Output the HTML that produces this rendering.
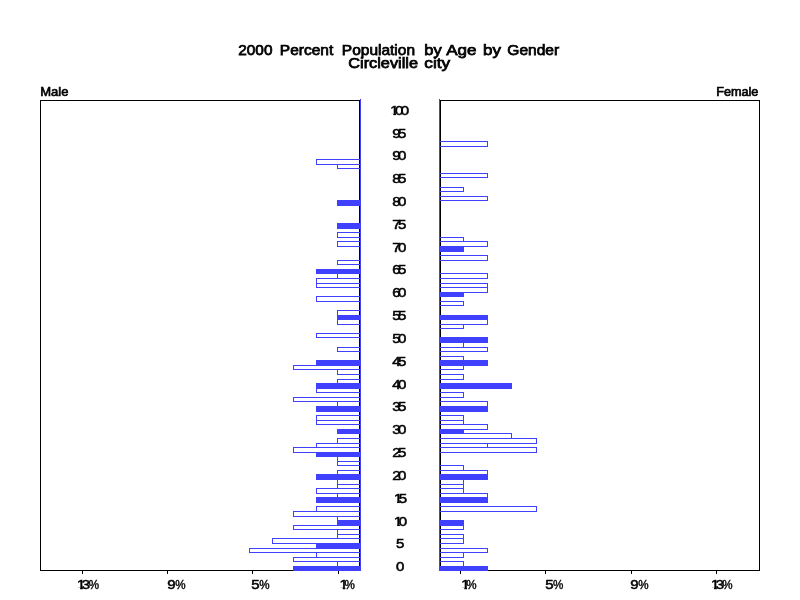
<!DOCTYPE html>
<html lang="en"><head><meta charset="utf-8"><title>2000 Percent Population by Age by Gender - Circleville city</title>
<style>html,body{margin:0;padding:0;background:#fff;}body{width:800px;height:600px;overflow:hidden;}svg{display:block;}text{font-family:"Liberation Sans",Arial,Helvetica,sans-serif;fill:#000;}.t{font-size:14.4px;stroke:#000;stroke-width:0.75px;}.g{font-size:12px;stroke:#000;stroke-width:0.65px;}.a{font-size:12px;letter-spacing:-2.1px;stroke:#000;stroke-width:0.5px;}.p{font-size:12px;stroke:#000;stroke-width:0.4px;}</style></head><body>
<svg width="800" height="600" viewBox="0 0 800 600">
<rect width="800" height="600" fill="#fff"/>
<g shape-rendering="crispEdges">
<rect x="40.5" y="100.5" width="319" height="470" fill="none" stroke="#000" stroke-width="1"/>
<rect x="440.5" y="100.5" width="319" height="470" fill="none" stroke="#000" stroke-width="1"/>
<rect x="82" y="571" width="1" height="3" fill="#000"/>
<rect x="167" y="571" width="1" height="3" fill="#000"/>
<rect x="252" y="571" width="1" height="3" fill="#000"/>
<rect x="338" y="571" width="1" height="3" fill="#000"/>
<rect x="460" y="571" width="1" height="3" fill="#000"/>
<rect x="545" y="571" width="1" height="3" fill="#000"/>
<rect x="631" y="571" width="1" height="3" fill="#000"/>
<rect x="716" y="571" width="1" height="3" fill="#000"/>
<rect x="293" y="566" width="68" height="5" fill="#4040ff"/>
<rect x="337.5" y="561.5" width="23" height="5" fill="none" stroke="#4040ff" stroke-width="1"/>
<rect x="293.5" y="557.5" width="67" height="4" fill="none" stroke="#4040ff" stroke-width="1"/>
<rect x="316.5" y="552.5" width="44" height="5" fill="none" stroke="#4040ff" stroke-width="1"/>
<rect x="249.5" y="548.5" width="111" height="4" fill="none" stroke="#4040ff" stroke-width="1"/>
<rect x="316" y="543" width="45" height="6" fill="#4040ff"/>
<rect x="272.5" y="538.5" width="88" height="5" fill="none" stroke="#4040ff" stroke-width="1"/>
<rect x="337.5" y="534.5" width="23" height="4" fill="none" stroke="#4040ff" stroke-width="1"/>
<rect x="337.5" y="529.5" width="23" height="5" fill="none" stroke="#4040ff" stroke-width="1"/>
<rect x="293.5" y="525.5" width="67" height="4" fill="none" stroke="#4040ff" stroke-width="1"/>
<rect x="337" y="520" width="24" height="6" fill="#4040ff"/>
<rect x="337.5" y="516.5" width="23" height="4" fill="none" stroke="#4040ff" stroke-width="1"/>
<rect x="293.5" y="511.5" width="67" height="5" fill="none" stroke="#4040ff" stroke-width="1"/>
<rect x="316.5" y="506.5" width="44" height="5" fill="none" stroke="#4040ff" stroke-width="1"/>
<rect x="316" y="497" width="45" height="6" fill="#4040ff"/>
<rect x="337.5" y="493.5" width="23" height="4" fill="none" stroke="#4040ff" stroke-width="1"/>
<rect x="316.5" y="488.5" width="44" height="5" fill="none" stroke="#4040ff" stroke-width="1"/>
<rect x="337.5" y="484.5" width="23" height="4" fill="none" stroke="#4040ff" stroke-width="1"/>
<rect x="337.5" y="479.5" width="23" height="5" fill="none" stroke="#4040ff" stroke-width="1"/>
<rect x="316" y="474" width="45" height="6" fill="#4040ff"/>
<rect x="337.5" y="470.5" width="23" height="4" fill="none" stroke="#4040ff" stroke-width="1"/>
<rect x="337.5" y="461.5" width="23" height="4" fill="none" stroke="#4040ff" stroke-width="1"/>
<rect x="337.5" y="456.5" width="23" height="5" fill="none" stroke="#4040ff" stroke-width="1"/>
<rect x="316" y="452" width="45" height="5" fill="#4040ff"/>
<rect x="293.5" y="447.5" width="67" height="5" fill="none" stroke="#4040ff" stroke-width="1"/>
<rect x="316.5" y="443.5" width="44" height="4" fill="none" stroke="#4040ff" stroke-width="1"/>
<rect x="337.5" y="438.5" width="23" height="5" fill="none" stroke="#4040ff" stroke-width="1"/>
<rect x="337" y="429" width="24" height="5" fill="#4040ff"/>
<rect x="316.5" y="420.5" width="44" height="4" fill="none" stroke="#4040ff" stroke-width="1"/>
<rect x="316.5" y="415.5" width="44" height="5" fill="none" stroke="#4040ff" stroke-width="1"/>
<rect x="316" y="406" width="45" height="6" fill="#4040ff"/>
<rect x="337.5" y="401.5" width="23" height="5" fill="none" stroke="#4040ff" stroke-width="1"/>
<rect x="293.5" y="397.5" width="67" height="4" fill="none" stroke="#4040ff" stroke-width="1"/>
<rect x="316.5" y="388.5" width="44" height="4" fill="none" stroke="#4040ff" stroke-width="1"/>
<rect x="316" y="383" width="45" height="6" fill="#4040ff"/>
<rect x="337.5" y="379.5" width="23" height="4" fill="none" stroke="#4040ff" stroke-width="1"/>
<rect x="337.5" y="369.5" width="23" height="5" fill="none" stroke="#4040ff" stroke-width="1"/>
<rect x="293.5" y="365.5" width="67" height="4" fill="none" stroke="#4040ff" stroke-width="1"/>
<rect x="316" y="360" width="45" height="6" fill="#4040ff"/>
<rect x="337.5" y="347.5" width="23" height="4" fill="none" stroke="#4040ff" stroke-width="1"/>
<rect x="316.5" y="333.5" width="44" height="4" fill="none" stroke="#4040ff" stroke-width="1"/>
<rect x="337.5" y="319.5" width="23" height="5" fill="none" stroke="#4040ff" stroke-width="1"/>
<rect x="337" y="315" width="24" height="5" fill="#4040ff"/>
<rect x="337.5" y="310.5" width="23" height="5" fill="none" stroke="#4040ff" stroke-width="1"/>
<rect x="316.5" y="296.5" width="44" height="5" fill="none" stroke="#4040ff" stroke-width="1"/>
<rect x="316.5" y="283.5" width="44" height="4" fill="none" stroke="#4040ff" stroke-width="1"/>
<rect x="316.5" y="278.5" width="44" height="5" fill="none" stroke="#4040ff" stroke-width="1"/>
<rect x="337.5" y="273.5" width="23" height="5" fill="none" stroke="#4040ff" stroke-width="1"/>
<rect x="316" y="269" width="45" height="5" fill="#4040ff"/>
<rect x="337.5" y="260.5" width="23" height="4" fill="none" stroke="#4040ff" stroke-width="1"/>
<rect x="337.5" y="241.5" width="23" height="5" fill="none" stroke="#4040ff" stroke-width="1"/>
<rect x="337.5" y="232.5" width="23" height="5" fill="none" stroke="#4040ff" stroke-width="1"/>
<rect x="337" y="223" width="24" height="6" fill="#4040ff"/>
<rect x="337" y="200" width="24" height="6" fill="#4040ff"/>
<rect x="337.5" y="164.5" width="23" height="4" fill="none" stroke="#4040ff" stroke-width="1"/>
<rect x="316.5" y="159.5" width="44" height="5" fill="none" stroke="#4040ff" stroke-width="1"/>
<rect x="439" y="566" width="49" height="5" fill="#4040ff"/>
<rect x="439.5" y="561.5" width="24" height="5" fill="none" stroke="#4040ff" stroke-width="1"/>
<rect x="439.5" y="552.5" width="24" height="5" fill="none" stroke="#4040ff" stroke-width="1"/>
<rect x="439.5" y="548.5" width="48" height="4" fill="none" stroke="#4040ff" stroke-width="1"/>
<rect x="439.5" y="538.5" width="24" height="5" fill="none" stroke="#4040ff" stroke-width="1"/>
<rect x="439.5" y="534.5" width="24" height="4" fill="none" stroke="#4040ff" stroke-width="1"/>
<rect x="439.5" y="525.5" width="24" height="4" fill="none" stroke="#4040ff" stroke-width="1"/>
<rect x="439" y="520" width="25" height="6" fill="#4040ff"/>
<rect x="439.5" y="506.5" width="97" height="5" fill="none" stroke="#4040ff" stroke-width="1"/>
<rect x="439" y="497" width="49" height="6" fill="#4040ff"/>
<rect x="439.5" y="493.5" width="48" height="4" fill="none" stroke="#4040ff" stroke-width="1"/>
<rect x="439.5" y="488.5" width="24" height="5" fill="none" stroke="#4040ff" stroke-width="1"/>
<rect x="439.5" y="484.5" width="24" height="4" fill="none" stroke="#4040ff" stroke-width="1"/>
<rect x="439.5" y="479.5" width="24" height="5" fill="none" stroke="#4040ff" stroke-width="1"/>
<rect x="439" y="474" width="49" height="6" fill="#4040ff"/>
<rect x="439.5" y="470.5" width="48" height="4" fill="none" stroke="#4040ff" stroke-width="1"/>
<rect x="439.5" y="465.5" width="24" height="5" fill="none" stroke="#4040ff" stroke-width="1"/>
<rect x="439.5" y="447.5" width="97" height="5" fill="none" stroke="#4040ff" stroke-width="1"/>
<rect x="439.5" y="443.5" width="48" height="4" fill="none" stroke="#4040ff" stroke-width="1"/>
<rect x="439.5" y="438.5" width="97" height="5" fill="none" stroke="#4040ff" stroke-width="1"/>
<rect x="439.5" y="433.5" width="72" height="5" fill="none" stroke="#4040ff" stroke-width="1"/>
<rect x="439" y="429" width="25" height="5" fill="#4040ff"/>
<rect x="439.5" y="424.5" width="48" height="5" fill="none" stroke="#4040ff" stroke-width="1"/>
<rect x="439.5" y="420.5" width="24" height="4" fill="none" stroke="#4040ff" stroke-width="1"/>
<rect x="439.5" y="415.5" width="24" height="5" fill="none" stroke="#4040ff" stroke-width="1"/>
<rect x="439" y="406" width="49" height="6" fill="#4040ff"/>
<rect x="439.5" y="401.5" width="48" height="5" fill="none" stroke="#4040ff" stroke-width="1"/>
<rect x="439.5" y="392.5" width="24" height="5" fill="none" stroke="#4040ff" stroke-width="1"/>
<rect x="439" y="383" width="73" height="6" fill="#4040ff"/>
<rect x="439.5" y="374.5" width="24" height="5" fill="none" stroke="#4040ff" stroke-width="1"/>
<rect x="439.5" y="365.5" width="24" height="4" fill="none" stroke="#4040ff" stroke-width="1"/>
<rect x="439" y="360" width="49" height="6" fill="#4040ff"/>
<rect x="439.5" y="356.5" width="24" height="4" fill="none" stroke="#4040ff" stroke-width="1"/>
<rect x="439.5" y="347.5" width="48" height="4" fill="none" stroke="#4040ff" stroke-width="1"/>
<rect x="439.5" y="342.5" width="24" height="5" fill="none" stroke="#4040ff" stroke-width="1"/>
<rect x="439" y="337" width="49" height="6" fill="#4040ff"/>
<rect x="439.5" y="324.5" width="24" height="4" fill="none" stroke="#4040ff" stroke-width="1"/>
<rect x="439.5" y="319.5" width="48" height="5" fill="none" stroke="#4040ff" stroke-width="1"/>
<rect x="439" y="315" width="49" height="5" fill="#4040ff"/>
<rect x="439.5" y="301.5" width="24" height="4" fill="none" stroke="#4040ff" stroke-width="1"/>
<rect x="439" y="292" width="25" height="5" fill="#4040ff"/>
<rect x="439.5" y="287.5" width="48" height="5" fill="none" stroke="#4040ff" stroke-width="1"/>
<rect x="439.5" y="283.5" width="48" height="4" fill="none" stroke="#4040ff" stroke-width="1"/>
<rect x="439.5" y="273.5" width="48" height="5" fill="none" stroke="#4040ff" stroke-width="1"/>
<rect x="439.5" y="255.5" width="48" height="5" fill="none" stroke="#4040ff" stroke-width="1"/>
<rect x="439" y="246" width="25" height="6" fill="#4040ff"/>
<rect x="439.5" y="241.5" width="48" height="5" fill="none" stroke="#4040ff" stroke-width="1"/>
<rect x="439.5" y="237.5" width="24" height="4" fill="none" stroke="#4040ff" stroke-width="1"/>
<rect x="439.5" y="196.5" width="48" height="4" fill="none" stroke="#4040ff" stroke-width="1"/>
<rect x="439.5" y="187.5" width="24" height="4" fill="none" stroke="#4040ff" stroke-width="1"/>
<rect x="439.5" y="173.5" width="48" height="4" fill="none" stroke="#4040ff" stroke-width="1"/>
<rect x="439.5" y="141.5" width="48" height="5" fill="none" stroke="#4040ff" stroke-width="1"/>
<rect x="360" y="99" width="1" height="472" fill="#4040ff"/>
<rect x="439" y="99" width="1" height="472" fill="#4040ff"/>
</g>
<g style="opacity:0.999">
<text class="t" y="55.0"><tspan x="238.30" textLength="34.15" lengthAdjust="spacingAndGlyphs">2000</tspan> <tspan x="279.85" textLength="53.45" lengthAdjust="spacingAndGlyphs">Percent</tspan> <tspan x="341.85" textLength="73.15" lengthAdjust="spacingAndGlyphs">Population</tspan> <tspan x="424.30" textLength="17.40" lengthAdjust="spacingAndGlyphs">by</tspan> <tspan x="446.20" textLength="30.30" lengthAdjust="spacingAndGlyphs">Age</tspan> <tspan x="483.00" textLength="17.90" lengthAdjust="spacingAndGlyphs">by</tspan> <tspan x="507.35" textLength="51.85" lengthAdjust="spacingAndGlyphs">Gender</tspan></text>
<text class="t" y="68.4"><tspan x="348.30" textLength="69.70" lengthAdjust="spacingAndGlyphs">Circleville</tspan> <tspan x="424.35" textLength="25.85" lengthAdjust="spacingAndGlyphs">city</tspan></text>
<text class="g" x="40.2" y="96" textLength="28.2" lengthAdjust="spacingAndGlyphs">Male</text>
<text class="g" x="716.2" y="96" textLength="42.2" lengthAdjust="spacingAndGlyphs">Female</text>
<defs><clipPath id="c1"><path d="M0,-11 H4.7 V1 H2.6 V-1.3 H0 Z"/></clipPath></defs>
<g transform="translate(390.15,114.7) scale(1.25,1)"><text class="a" clip-path="url(#c1)">1</text><text class="a" x="3.9">00</text></g>
<text class="a" transform="translate(397.9,137.5) scale(1.25,1)" text-anchor="middle">95</text>
<text class="a" transform="translate(397.9,160.3) scale(1.25,1)" text-anchor="middle">90</text>
<text class="a" transform="translate(397.9,183.1) scale(1.25,1)" text-anchor="middle">85</text>
<text class="a" transform="translate(397.9,205.9) scale(1.25,1)" text-anchor="middle">80</text>
<text class="a" transform="translate(397.9,228.8) scale(1.25,1)" text-anchor="middle">75</text>
<text class="a" transform="translate(397.9,251.6) scale(1.25,1)" text-anchor="middle">70</text>
<text class="a" transform="translate(397.9,274.4) scale(1.25,1)" text-anchor="middle">65</text>
<text class="a" transform="translate(397.9,297.2) scale(1.25,1)" text-anchor="middle">60</text>
<text class="a" transform="translate(397.9,320.1) scale(1.25,1)" text-anchor="middle">55</text>
<text class="a" transform="translate(397.9,342.9) scale(1.25,1)" text-anchor="middle">50</text>
<text class="a" transform="translate(397.9,365.7) scale(1.25,1)" text-anchor="middle">45</text>
<text class="a" transform="translate(397.9,388.5) scale(1.25,1)" text-anchor="middle">40</text>
<text class="a" transform="translate(397.9,411.3) scale(1.25,1)" text-anchor="middle">35</text>
<text class="a" transform="translate(397.9,434.2) scale(1.25,1)" text-anchor="middle">30</text>
<text class="a" transform="translate(397.9,457.0) scale(1.25,1)" text-anchor="middle">25</text>
<text class="a" transform="translate(397.9,479.8) scale(1.25,1)" text-anchor="middle">20</text>
<g transform="translate(393.90,502.6) scale(1.25,1)"><text class="a" clip-path="url(#c1)">1</text><text class="a" x="3.9">5</text></g>
<g transform="translate(393.90,525.5) scale(1.25,1)"><text class="a" clip-path="url(#c1)">1</text><text class="a" x="3.9">0</text></g>
<text class="a" transform="translate(398.9,548.3) scale(1.25,1)" text-anchor="middle">5</text>
<text class="a" transform="translate(398.9,571.1) scale(1.25,1)" text-anchor="middle">0</text>
<g transform="translate(76.90,589.1) scale(1.25,1)"><text class="a" clip-path="url(#c1)">1</text><text class="a" x="3.9">3</text></g>
<text class="p" transform="translate(99.1,589.1) scale(0.97,1)" text-anchor="end">%</text>
<text class="a" transform="translate(167.30,589.1) scale(1.25,1)">9</text>
<text class="p" transform="translate(185.5,589.1) scale(0.97,1)" text-anchor="end">%</text>
<text class="a" transform="translate(251.30,589.1) scale(1.25,1)">5</text>
<text class="p" transform="translate(269.5,589.1) scale(0.97,1)" text-anchor="end">%</text>
<g transform="translate(339.50,589.1) scale(1.25,1)"><text class="a" clip-path="url(#c1)">1</text></g>
<text class="p" transform="translate(354.9,589.1) scale(0.97,1)" text-anchor="end">%</text>
<g transform="translate(461.20,589.1) scale(1.25,1)"><text class="a" clip-path="url(#c1)">1</text></g>
<text class="p" transform="translate(476.7,589.1) scale(0.97,1)" text-anchor="end">%</text>
<text class="a" transform="translate(545.30,589.1) scale(1.25,1)">5</text>
<text class="p" transform="translate(563.3,589.1) scale(0.97,1)" text-anchor="end">%</text>
<text class="a" transform="translate(630.30,589.1) scale(1.25,1)">9</text>
<text class="p" transform="translate(648.5,589.1) scale(0.97,1)" text-anchor="end">%</text>
<g transform="translate(710.90,589.1) scale(1.25,1)"><text class="a" clip-path="url(#c1)">1</text><text class="a" x="3.9">3</text></g>
<text class="p" transform="translate(732.5,589.1) scale(0.97,1)" text-anchor="end">%</text>
</g>
</svg></body></html>
